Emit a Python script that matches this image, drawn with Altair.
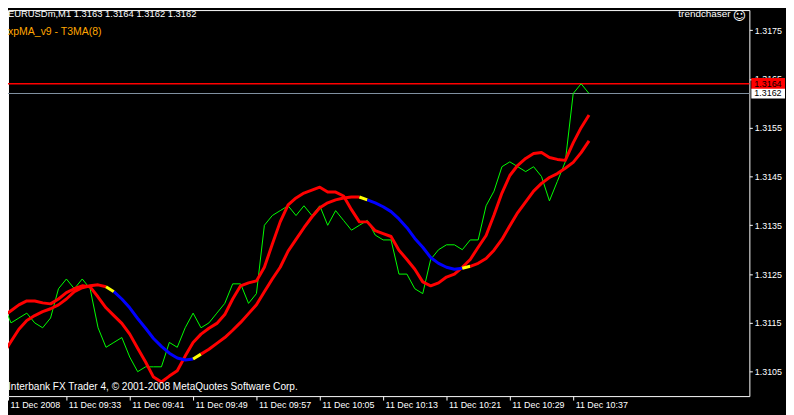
import altair as alt
import pandas as pd

# ---------------- data ----------------
bar_index = list(range(75))  # M1 bars from 11 Dec 09:25 to 10:39

close = [1.3119, 1.3115, 1.3116, 1.3117, 1.3115, 1.3114, 1.3116, 1.3122, 1.3124, 1.3122,
         1.3124, 1.3122, 1.3114, 1.3110, 1.3111, 1.3112, 1.3108, 1.3105, 1.3106, 1.3106,
         1.3106, 1.3111, 1.3110, 1.3114, 1.3117, 1.3114, 1.3115, 1.3117, 1.3119, 1.3123,
         1.3123, 1.3119, 1.3121, 1.3135, 1.3137, 1.3138, 1.3139, 1.3137, 1.3139, 1.3137,
         1.3139, 1.3135, 1.3138, 1.3136, 1.3134, 1.3135, 1.3136, 1.3133, 1.3132, 1.3132,
         1.3125, 1.3125, 1.3122, 1.3121, 1.3128, 1.3130, 1.3131, 1.3131, 1.3130, 1.3132,
         1.3132, 1.3139, 1.3142, 1.3147, 1.3148, 1.3147, 1.3146, 1.3147, 1.3145, 1.3140,
         1.3144, 1.3148, 1.3162, 1.3164, 1.3162]

t3_fast = [1.31163, 1.31175, 1.31187, 1.31195, 1.31195, 1.31191, 1.31189, 1.31199, 1.31212, 1.31220,
           1.31226, 1.31224, 1.31203, 1.31181, 1.31165, 1.31149, 1.31127, 1.31098, 1.31070, 1.31039,
           1.31029, 1.31041, 1.31052, 1.31082, 1.31110, 1.31127, 1.31139, 1.31149, 1.31167, 1.31199,
           1.31226, 1.31232, 1.31236, 1.31264, 1.31311, 1.31357, 1.31392, 1.31406, 1.31416, 1.31422,
           1.31428, 1.31418, 1.31418, 1.31410, 1.31382, 1.31357, 1.31357, 1.31339, 1.31333, 1.31327,
           1.31299, 1.31280, 1.31260, 1.31234, 1.31226, 1.31232, 1.31244, 1.31250, 1.31264, 1.31280,
           1.31305, 1.31329, 1.31371, 1.31416, 1.31452, 1.31473, 1.31487, 1.31497, 1.31499, 1.31489,
           1.31485, 1.31483, 1.31519, 1.31550, 1.31576]

t3_slow = [1.31086, 1.31112, 1.31137, 1.31155, 1.31165, 1.31173, 1.31179, 1.31187, 1.31199, 1.31214,
           1.31222, 1.31226, 1.31228, 1.31224, 1.31214, 1.31199, 1.31181, 1.31159, 1.31139, 1.31118,
           1.31102, 1.31088, 1.31078, 1.31074, 1.31076, 1.31086, 1.31096, 1.31108, 1.31120, 1.31135,
           1.31151, 1.31169, 1.31187, 1.31214, 1.31240, 1.31264, 1.31297, 1.31321, 1.31345, 1.31367,
           1.31386, 1.31396, 1.31402, 1.31406, 1.31408, 1.31408, 1.31402, 1.31396, 1.31388, 1.31378,
           1.31363, 1.31345, 1.31323, 1.31305, 1.31284, 1.31272, 1.31264, 1.31260, 1.31262, 1.31266,
           1.31272, 1.31282, 1.31299, 1.31321, 1.31349, 1.31376, 1.31398, 1.31420, 1.31436, 1.31448,
           1.31456, 1.31467, 1.31479, 1.31499, 1.31523]

# colour runs of the slow T3 line: (colour, number of bar-to-bar segments)
slow_runs = [("#FF0000", 13), ("#FFFF00", 1), ("#0000FF", 10), ("#FFFF00", 1),
             ("#FF0000", 20), ("#FFFF00", 1), ("#0000FF", 12), ("#FFFF00", 1),
             ("#FF0000", 15)]

tick_bars = [0, 8, 16, 24, 32, 40, 48, 56, 64, 72]
tick_labels = ["11 Dec 2008", "11 Dec 09:33", "11 Dec 09:41", "11 Dec 09:49", "11 Dec 09:57",
               "11 Dec 10:05", "11 Dec 10:13", "11 Dec 10:21", "11 Dec 10:29", "11 Dec 10:37"]
price_ticks = [1.3105, 1.3115, 1.3125, 1.3135, 1.3145, 1.3155, 1.3165, 1.3175]
ask_price = [1.3164]
bid_price = [1.3162]

header_text = "EURUSDm,M1  1.3163 1.3164 1.3162 1.3162"
indicator_text = "xpMA_v9 - T3MA(8)"
brand_text = "trendchaser"
smiley_text = "\u263A"
footer_text = "Interbank FX Trader 4, \u00A9 2001-2008 MetaQuotes Software Corp."

# ---------------- tables ----------------
df = pd.DataFrame({"i": bar_index, "close": close, "fast": t3_fast})

rows = []
start = 0
for k, (col, n) in enumerate(slow_runs):
    for j in range(start, start + n + 1):
        rows.append({"i": j, "v": t3_slow[j], "seg": k, "c": col})
    start += n
slow_df = pd.DataFrame(rows)

one = pd.DataFrame({"a": [0]})

# ---------------- chart ----------------
FONT = "Liberation Sans"
PW, PH = 749, 390
x_lo, x_hi = 0.625, 94.25
xs = alt.Scale(domain=[x_lo, x_hi], nice=False, zero=False)
ys = alt.Scale(domain=[1.31, 1.31791], nice=False, zero=False)

tick_vals = [max(b, x_lo) for b in tick_bars]
expr = "".join(f"abs(datum.value - {b}) < 1 ? '{lab}' : " for b, lab in zip(tick_bars, tick_labels)) + "''"

xaxis = alt.Axis(values=tick_vals, labelExpr=expr, title=None, grid=False, domain=False,
                 tickSize=4, tickColor="white", labelColor="white", labelFont=FONT,
                 labelFontSize=9, labelAlign="left", labelBaseline="top", labelPadding=1,
                 labelOffset=2, labelOverlap=False, labelBound=False, labelFlush=False)
yaxis = alt.Axis(orient="right", values=price_ticks, format=".4f", title=None, grid=False,
                 domain=False, tickSize=3, tickColor="white", labelColor="white", labelFont=FONT,
                 labelFontSize=9, labelPadding=2, labelAlign="left", labelBaseline="middle",
                 labelOverlap=False, labelBound=False, labelFlush=False)


def X(field):
    return alt.X(field, scale=xs, axis=xaxis)


def Y(field):
    return alt.Y(field, scale=ys, axis=yaxis)


green = alt.Chart(df).mark_line(color="#00FF00", strokeWidth=1, clip=True).encode(
    x=X("i:Q"), y=Y("close:Q"))
fast = alt.Chart(df).mark_line(color="#FF0000", strokeWidth=3, clip=True, strokeJoin="round").encode(
    x=X("i:Q"), y=Y("fast:Q"))
slow = alt.Chart(slow_df).mark_line(strokeWidth=3, clip=True, strokeJoin="round").encode(
    x=X("i:Q"), y=Y("v:Q"),
    color=alt.Color("c:N", scale=None),
    detail="seg:N",
)

ask_rule = alt.Chart(pd.DataFrame({"p": ask_price})).mark_rule(color="#FF0000", strokeWidth=1.5).encode(
    y=Y("p:Q"))
bid_rule = alt.Chart(pd.DataFrame({"p": bid_price})).mark_rule(color="#8090A0", strokeWidth=1.2).encode(
    y=Y("p:Q"))


def price_box(prices, fill, half):
    base = alt.Chart(pd.DataFrame({"p": prices})).transform_calculate(
        top=f"datum.p + {half}", bot=f"datum.p - {half}")
    box = base.mark_rect(color=fill).encode(
        x=alt.value(PW + 2), x2=alt.value(PW + 36),
        y=Y("top:Q"), y2="bot:Q")
    txt = base.mark_text(align="left", baseline="middle", color="black", font=FONT, fontSize=9).encode(
        x=alt.value(PW + 5), y=Y("p:Q"), text=alt.Text("p:Q", format=".4f"))
    return box + txt


ask_box = price_box(ask_price, "#FF0000", 0.00012)
bid_box = price_box(bid_price, "#FFFFFF", 0.0001)


def label(text, x, y, color="white", align="left", size=9.5, font=FONT):
    return alt.Chart(one).mark_text(text=text, align=align, baseline="alphabetic", color=color,
                                    font=font, fontSize=size).encode(x=alt.value(x), y=alt.value(y))


chart = alt.layer(
    ask_rule, bid_rule, green, fast, slow, ask_box, bid_box,
    label(header_text, 0, 7),
    label(indicator_text, 0, 25.5, color="#FFA500", size=10.6),
    label(brand_text, 730, 7.5, align="right", size=10),
    label(smiley_text, 739, 10, align="center", size=13, font="DejaVu Sans"),
    label(footer_text, 0, 384, size=10.2),
).properties(
    width=PW, height=PH,
    padding={"left": 0, "top": 0, "right": 37, "bottom": 17},
    autosize=alt.AutoSizeParams(type="none"),
).configure(background="black").configure_view(stroke="white", strokeWidth=1, fill="black")

chart.save("out.html", embed_options={"renderer": "svg", "actions": False})
